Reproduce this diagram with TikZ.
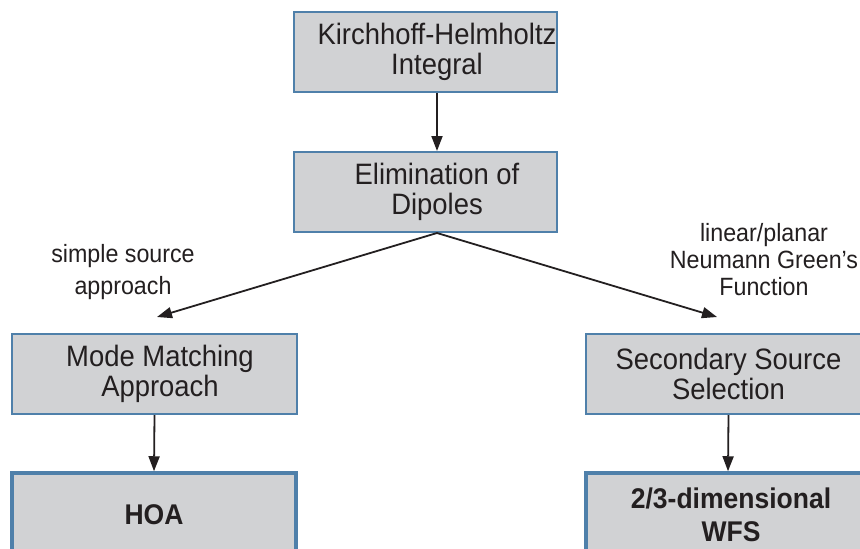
\documentclass[tikz,border=0pt]{standalone}
\usepackage{fontspec}
\setmainfont{Liberation Sans}[FakeStretch=0.93]
\usetikzlibrary{arrows.meta}
\definecolor{boxfill}{HTML}{D1D2D4}
\definecolor{boxline}{HTML}{4F80AA}
\definecolor{ink}{HTML}{231F20}
\begin{document}
\begin{tikzpicture}[x=1pt,y=-1pt,
  box/.style={draw=boxline, fill=boxfill, line width=2pt, minimum width=263pt,
    minimum height=80pt, inner sep=0pt, align=center,
    font=\fontsize{29.5}{30}\selectfont, text=ink},
  resultbox/.style={box, line width=3.5pt, minimum width=284pt, minimum height=84pt,
    font=\fontsize{28.5}{33}\selectfont\bfseries},
  conn/.style={draw=ink, line width=1.8pt, -{Triangle[length=15pt,width=11pt]}},
  lbl/.style={align=center, inner sep=0pt, text=ink}]
\useasboundingbox (0,0) rectangle (860,549);
\clip (0,0) rectangle (860,549);
\fill[white] (0,0) rectangle (860,549);

\node[box] (kh) at (425.5,52) {\hspace*{23pt}Kirchhoff-Helmholtz\\\hspace*{23pt}Integral};
\node[box] (elim) at (425.5,192) {\hspace*{23pt}Elimination of\\\hspace*{23pt}Dipoles};
\node[box, minimum width=285pt] (mm) at (154.5,374) {\hspace*{11pt}Mode Matching\\\hspace*{11pt}Approach};
\node[box, minimum width=285pt] (ss) at (728.5,374) {Secondary Source\\Selection};
\node[resultbox] (hoa) at (154,515) {HOA};
\node[resultbox] (wfs) at (728,515) {\hspace*{6pt}2/3-dimensional\\\hspace*{6pt}WFS};

\node[lbl, font=\fontsize{25}{32}\selectfont] (lsimple) at (123,272) {simple source\\approach};
\node[lbl, font=\fontsize{25}{27}\selectfont] (llinear) at (764,260) {linear/planar\\Neumann Green's\\Function};

\coordinate (apex) at ([xshift=11.5pt]elim.south);
\coordinate (tipL) at (157,317);
\coordinate (tipR) at (717,317);

\draw[conn] ([xshift=11.5pt]kh.south) -- ([xshift=11.5pt]elim.north);
\draw[conn] (apex) -- (tipL);
\draw[conn] (apex) -- (tipR);
\draw[conn] (mm.south) -- (hoa.north);
\draw[conn] (ss.south) -- (wfs.north);
\end{tikzpicture}
\end{document}
